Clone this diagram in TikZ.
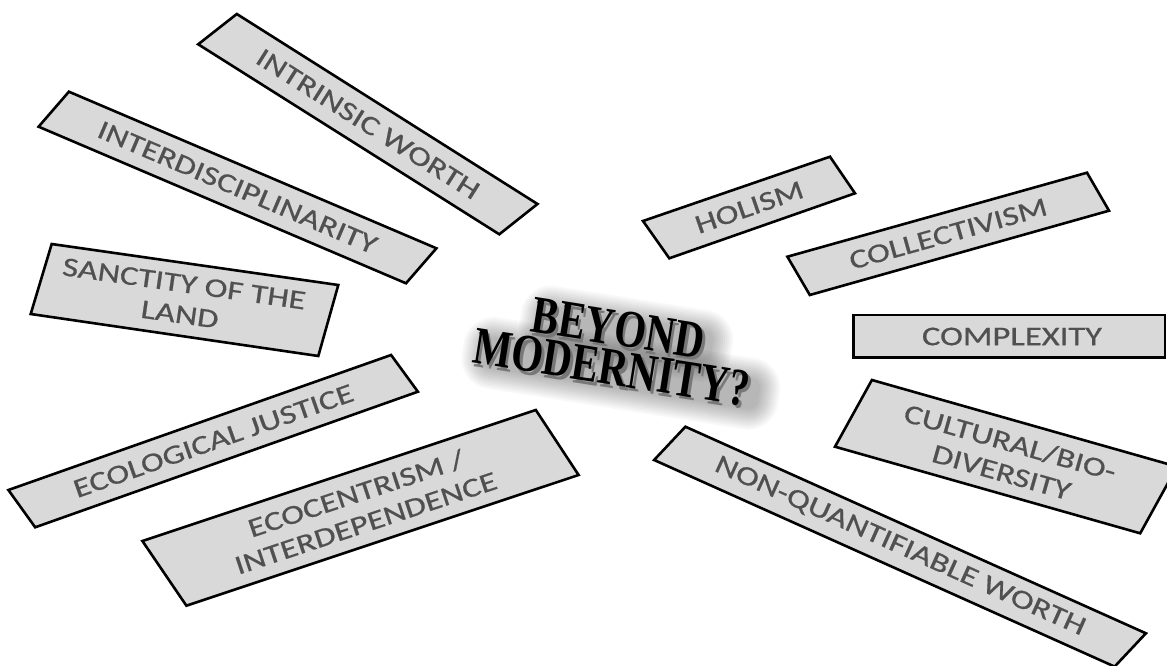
\documentclass[tikz,border=0pt]{standalone}
\usepackage{fontspec}
\newfontfamily\boxfont[FakeStretch=1.28,FakeBold=0.6]{Carlito}
\newfontfamily\bmfont[FakeStretch=0.77]{Liberation Serif}
\definecolor{boxfill}{RGB}{217,217,217}
\definecolor{boxtextcol}{RGB}{80,80,80}
\definecolor{extrude}{RGB}{120,120,120}
\begin{document}
\begin{tikzpicture}[x=1pt,y=-1pt,
  boxline/.style={draw=black, line width=2.6pt, fill=boxfill, line join=miter},
  boxtext/.style={font=\boxfont\fontsize{27}{31}\selectfont, text=boxtextcol, align=center, inner sep=0pt},
  bm/.style={font=\bmfont\bfseries\fontsize{53}{40}\selectfont, align=center, inner sep=0pt, rotate=-9},
  glowband/.style={fill=black, fill opacity=0.028},
]
\useasboundingbox (0,0) rectangle (1167,666);
\clip (0,0) rectangle (1167,666);
\fill[white] (0,0) rectangle (1167,666);

% boxes
\draw[boxline] (236.8,14) -- (537.5,204) -- (499.3,234.3) -- (198.2,44.3) -- cycle;
\node[boxtext, rotate=-32.3] (intr) at (368,124) {INTRINSIC WORTH};

\draw[boxline] (68.9,91.7) -- (436.4,248.3) -- (406,283.3) -- (38.6,126.7) -- cycle;
\node[boxtext, rotate=-23.1] (inter) at (237.5,187.5) {INTERDISCIPLINARITY};

\draw[boxline] (51.7,244) -- (338.3,285) -- (318.3,356) -- (30.7,314) -- cycle;
\node[boxtext, rotate=-8.1] (sanct) at (182,299) {SANCTITY OF THE\\LAND};

\draw[boxline] (643,221) -- (830,156.7) -- (855,193.3) -- (669.3,258.3) -- cycle;
\node[boxtext, rotate=19.2] (holism) at (749.3,207.3) {HOLISM};

\draw[boxline] (787.4,256.7) -- (1087,172.7) -- (1109,210.7) -- (809.8,295) -- cycle;
\node[boxtext, rotate=15.7] (collect) at (948.3,233.8) {COLLECTIVISM};

\draw[boxline] (853.3,315) rectangle (1165,357.3);
\node[boxtext] (complex) at (1012,336.5) {COMPLEXITY};

\draw[boxline] (871.9,380) -- (1177,466.6) -- (1140.2,533.3) -- (835,446.7) -- cycle;
\node[boxtext, rotate=-15.9] (cult) at (1006,457) {CULTURAL/BIO-\\DIVERSITY};

\draw[boxline] (685.4,426.7) -- (1145.9,633.3) -- (1114.6,666.6) -- (654.1,460) -- cycle;
\node[boxtext, rotate=-24.2] (nonq) at (900,546.7) {NON-QUANTIFIABLE WORTH};

\draw[boxline] (391.1,355) -- (417.9,391.7) -- (35.2,527.3) -- (8.4,490) -- cycle;
\node[boxtext, rotate=19.4] (ecol) at (213.5,441) {ECOLOGICAL JUSTICE};

\draw[boxline] (535.8,410) -- (578.6,475) -- (186.4,605.7) -- (142.4,541) -- cycle;
\node[boxtext, rotate=18.4] (ecoc) at (360.8,508) {ECOCENTRISM /\\INTERDEPENDENCE};

% central title: soft glow bands behind the two lines
\begin{scope}[shift={(620,353)}, rotate=-9]
  \foreach \e in {20,18,...,0}{
    \fill[glowband, rounded corners={(10+\e)*1pt}] ({-84-\e},{-36-\e}) rectangle ({90+\e},{-4+\e});
    \fill[glowband, rounded corners={(10+\e)*1pt}] ({-136-\e},{4-\e}) rectangle ({144+\e},{36+\e});
  }
\end{scope}
% extrusion and face
\node[bm, text=extrude] (titleside) at (617.5,351.5) {BEYOND\\MODERNITY?};
\node[bm, text=black] (title) at (615,348) {BEYOND\\MODERNITY?};
\end{tikzpicture}
\end{document}
